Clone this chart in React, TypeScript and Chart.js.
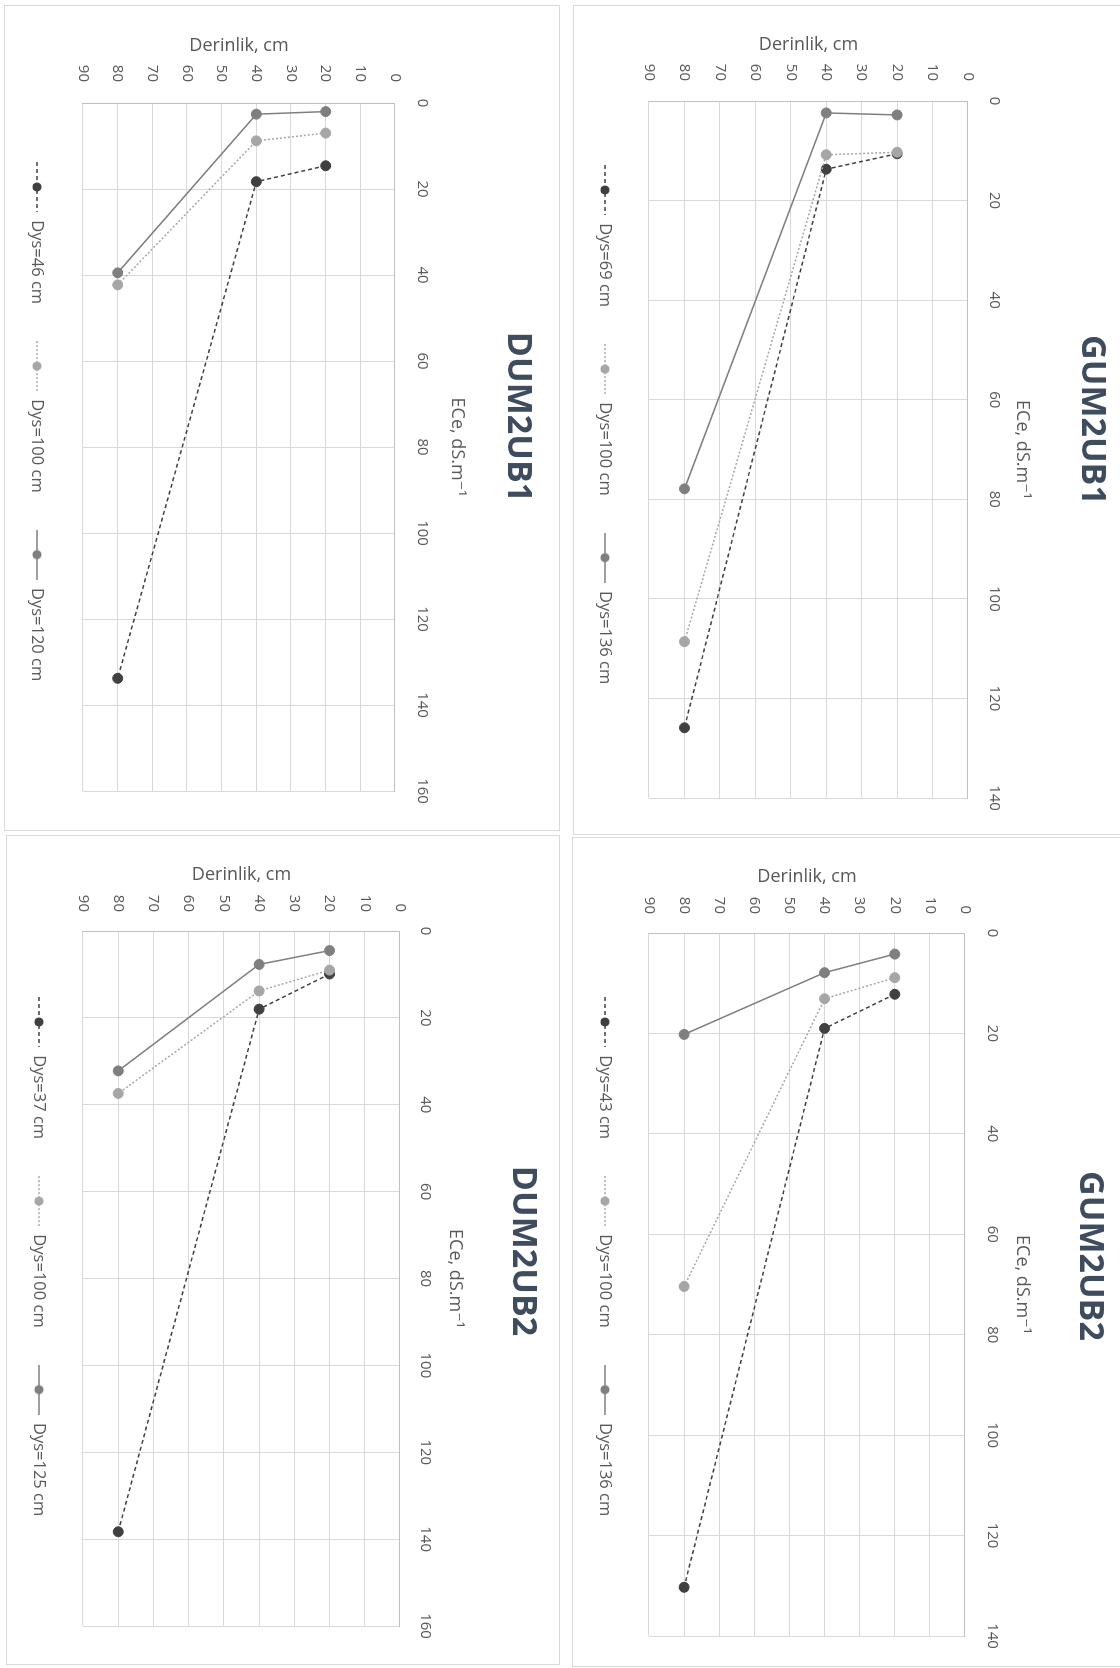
import React, { useEffect, useRef } from "react";
import { Chart, registerables } from "chart.js";

Chart.register(...registerables);

// ---------------- data ----------------
const depthsCm = [20, 40, 80];
const depthTicks = [0, 10, 20, 30, 40, 50, 60, 70, 80, 90];
const eceTicksGum = [0, 20, 40, 60, 80, 100, 120, 140];
const eceTicksDum = [0, 20, 40, 60, 80, 100, 120, 140, 160];

const gum2ub1Labels = ["Dys=69 cm", "Dys=100 cm", "Dys=136 cm"];
const gum2ub1Dys69 = [10.6, 13.7, 125.9];
const gum2ub1Dys100 = [10.3, 10.8, 108.6];
const gum2ub1Dys136 = [2.8, 2.4, 77.9];

const dum2ub1Labels = ["Dys=46 cm", "Dys=100 cm", "Dys=120 cm"];
const dum2ub1Dys46 = [14.6, 18.3, 133.8];
const dum2ub1Dys100 = [7.0, 8.8, 42.3];
const dum2ub1Dys120 = [2.0, 2.6, 39.5];

const gum2ub2Labels = ["Dys=43 cm", "Dys=100 cm", "Dys=136 cm"];
const gum2ub2Dys43 = [12.2, 19.0, 130.3];
const gum2ub2Dys100 = [8.9, 13.1, 70.4];
const gum2ub2Dys136 = [4.2, 7.9, 20.2];

const dum2ub2Labels = ["Dys=37 cm", "Dys=100 cm", "Dys=125 cm"];
const dum2ub2Dys37 = [9.9, 18.0, 138.3];
const dum2ub2Dys100 = [9.0, 13.8, 37.4];
const dum2ub2Dys125 = [4.5, 7.7, 32.2];

const depthTitle = "Derinlik, cm";
const eceTitle = "ECe, dS.m\u207B\u00B9";

// ---------------- styles ----------------
const SERIES_STYLE = [
  { color: "#404040", dash: [4, 3] },
  { color: "#a6a6a6", dash: [2, 2] },
  { color: "#7f7f7f", dash: [] as number[] },
];
const FONT = "'Open Sans', 'DejaVu Sans', sans-serif";
const TEXT = "#595959";
const TITLE_FONT = 34;
const AXIS_FONT = 18;
const TICK_FONT = 15;
const LEGEND_FONT = 16.5;
const LEGEND_PAD = 37;
const LEGEND_BOX = 50;

type PanelCfg = {
  title: string;
  labels: string[];
  series: number[][];
  eceTicks: number[];
  box: { l: number; t: number; r: number; b: number };
  plot: { x0: number; x1: number; y0: number; y1: number };
  titleX: number;
  titleCenterY: number;
  axisTitleX: number;
  tickX: number;
  legendX: number;
  derinlikY: number;
  depthLabelEdgeY: number;
  legendFirstY: number;
};

const PANELS: PanelCfg[] = [
  {
    title: "DUM2UB1",
    labels: dum2ub1Labels,
    series: [dum2ub1Dys46, dum2ub1Dys100, dum2ub1Dys120],
    eceTicks: eceTicksDum,
    box: { l: 4, t: 5, r: 560, b: 831 },
    plot: { x0: 83, x1: 395, y0: 103, y1: 791 },
    titleX: 518,
    titleCenterY: 417,
    axisTitleX: 457,
    tickX: 422,
    legendX: 37,
    derinlikY: 46,
    depthLabelEdgeY: 82,
    legendFirstY: 187,
  },
  {
    title: "GUM2UB1",
    labels: gum2ub1Labels,
    series: [gum2ub1Dys69, gum2ub1Dys100, gum2ub1Dys136],
    eceTicks: eceTicksGum,
    box: { l: 573, t: 5, r: 1129, b: 835 },
    plot: { x0: 649, x1: 968, y0: 101, y1: 798 },
    titleX: 1092,
    titleCenterY: 420,
    axisTitleX: 1022,
    tickX: 994,
    legendX: 605,
    derinlikY: 45,
    depthLabelEdgeY: 81,
    legendFirstY: 190,
  },
  {
    title: "DUM2UB2",
    labels: dum2ub2Labels,
    series: [dum2ub2Dys37, dum2ub2Dys100, dum2ub2Dys125],
    eceTicks: eceTicksDum,
    box: { l: 6, t: 835, r: 560, b: 1665 },
    plot: { x0: 83, x1: 400, y0: 931, y1: 1626 },
    titleX: 523,
    titleCenterY: 1251,
    axisTitleX: 455,
    tickX: 425,
    legendX: 39,
    derinlikY: 875,
    depthLabelEdgeY: 912,
    legendFirstY: 1022,
  },
  {
    title: "GUM2UB2",
    labels: gum2ub2Labels,
    series: [gum2ub2Dys43, gum2ub2Dys100, gum2ub2Dys136],
    eceTicks: eceTicksGum,
    box: { l: 572, t: 837, r: 1128, b: 1667 },
    plot: { x0: 649, x1: 965, y0: 933, y1: 1636 },
    titleX: 1090,
    titleCenterY: 1256,
    axisTitleX: 1022,
    tickX: 992,
    legendX: 605,
    derinlikY: 877,
    depthLabelEdgeY: 914,
    legendFirstY: 1022,
  },
];

function legendSymbol(color: string, dash: number[]): HTMLCanvasElement {
  const c = document.createElement("canvas");
  c.width = LEGEND_BOX;
  c.height = 12;
  const ctx = c.getContext("2d")!;
  ctx.strokeStyle = color;
  ctx.lineWidth = 1.5;
  ctx.setLineDash(dash);
  ctx.beginPath();
  ctx.moveTo(0, 6);
  ctx.lineTo(LEGEND_BOX, 6);
  ctx.stroke();
  ctx.setLineDash([]);
  ctx.fillStyle = color;
  ctx.beginPath();
  ctx.arc(LEGEND_BOX / 2, 6, 4.5, 0, Math.PI * 2);
  ctx.fill();
  return c;
}

const placePlugin = {
  id: "placeBlocks",
  afterLayout(chart: any, _args: any, opts: any) {
    const lg = chart.legend;
    if (lg && opts) {
      const w = lg.width;
      const h = lg.height;
      lg.left = opts.legendStartU - LEGEND_PAD;
      lg.right = lg.left + w;
      lg.top = opts.legendCenterV - LEGEND_PAD - LEGEND_FONT / 2;
      lg.bottom = lg.top + h;
    }
    const tb = chart.titleBlock;
    if (tb && opts) {
      tb.left = opts.titleCenterU - 400;
      tb.right = opts.titleCenterU + 400;
      tb.width = 800;
    }
  },
};

function Panel({ cfg }: { cfg: PanelCfg }) {
  const ref = useRef<HTMLCanvasElement | null>(null);
  const H = cfg.box.r - cfg.box.l; // rotated: screen width -> chart height
  const W = cfg.box.b - cfg.box.t; // screen height -> chart width

  useEffect(() => {
    if (!ref.current) return;
    const vOf = (x: number) => cfg.box.r - x;
    const uOf = (y: number) => y - cfg.box.t;
    const chartTop = vOf(cfg.plot.x1);
    const chartBottom = vOf(cfg.plot.x0);
    const chartLeft = uOf(cfg.plot.y0);
    const chartRight = uOf(cfg.plot.y1);

    const titleLH = TITLE_FONT * 1.2;
    const titlePadTop = vOf(cfg.titleX) - titleLH / 2;
    const titleBoxBottom = titlePadTop + titleLH;
    const xAxisHeight = chartTop - titleBoxBottom;
    const axisLH = AXIS_FONT * 1.2;
    const xTitlePad = vOf(cfg.axisTitleX) - titleBoxBottom - axisLH / 2;
    const tickLH = TICK_FONT * 1.2;
    const xTickPad = chartTop - vOf(cfg.tickX) - tickLH / 2;
    const yTitlePad = uOf(cfg.derinlikY) - axisLH / 2;
    const yTickPad = chartLeft - uOf(cfg.depthLabelEdgeY);
    const legendHeight = LEGEND_FONT + LEGEND_PAD + 10;
    const padBottom = H - chartBottom - legendHeight;
    const padRight = W - chartRight;

    const symbols = SERIES_STYLE.map((s) => legendSymbol(s.color, s.dash));
    const eceMax = cfg.eceTicks[cfg.eceTicks.length - 1];

    const datasets = cfg.series.map((vals, i) => ({
      label: cfg.labels[i],
      data: vals.map((v, k) => ({ x: v, y: depthsCm[k] })),
      showLine: true,
      borderColor: SERIES_STYLE[i].color,
      backgroundColor: SERIES_STYLE[i].color,
      borderDash: SERIES_STYLE[i].dash,
      borderWidth: 1.5,
      pointRadius: 5,
      pointBackgroundColor: SERIES_STYLE[i].color,
      pointBorderColor: SERIES_STYLE[i].color,
      pointBorderWidth: 1,
      order: 3 - i,
    }));

    const chart = new Chart(ref.current, {
      type: "scatter",
      data: { datasets },
      plugins: [placePlugin as any],
      options: {
        responsive: false,
        animation: false,
        devicePixelRatio: 1,
        layout: {
          autoPadding: false,
          padding: { top: 0, left: 0, right: padRight, bottom: padBottom },
        },
        scales: {
          x: {
            type: "linear",
            position: "top",
            min: 0,
            max: eceMax,
            afterBuildTicks: (scale: any) => {
              scale.ticks = cfg.eceTicks.map((v) => ({ value: v }));
            },
            afterFit: (scale: any) => {
              scale.height = xAxisHeight;
            },
            grid: { color: "#d9d9d9", lineWidth: 1, drawTicks: false },
            border: { display: true, color: "#bfbfbf", width: 1 },
            ticks: {
              color: TEXT,
              padding: xTickPad,
              maxRotation: 0,
              autoSkip: false,
              font: { family: FONT, size: TICK_FONT },
            },
            title: {
              display: true,
              text: eceTitle,
              color: TEXT,
              padding: { top: xTitlePad, bottom: 0 },
              font: { family: FONT, size: AXIS_FONT },
            },
          },
          y: {
            type: "linear",
            position: "left",
            reverse: true,
            min: 0,
            max: 90,
            afterBuildTicks: (scale: any) => {
              scale.ticks = depthTicks.map((v) => ({ value: v }));
            },
            afterFit: (scale: any) => {
              scale.width = chartLeft;
            },
            grid: { color: "#d9d9d9", lineWidth: 1, drawTicks: false },
            border: { display: true, color: "#bfbfbf", width: 1 },
            ticks: {
              color: TEXT,
              padding: yTickPad,
              autoSkip: false,
              font: { family: FONT, size: TICK_FONT },
            },
            title: {
              display: true,
              text: depthTitle,
              color: TEXT,
              padding: { top: yTitlePad, bottom: 0 },
              font: { family: FONT, size: AXIS_FONT },
            },
          },
        },
        plugins: {
          placeBlocks: {
            legendStartU: uOf(cfg.legendFirstY) - LEGEND_BOX / 2,
            legendCenterV: vOf(cfg.legendX),
            titleCenterU: uOf(cfg.titleCenterY),
          },
          title: {
            display: true,
            text: cfg.title,
            color: "#3e4c5e",
            padding: { top: titlePadTop, bottom: 0 },
            font: { family: FONT, size: TITLE_FONT, weight: "bold" },
          },
          legend: {
            display: true,
            position: "bottom",
            align: "start",
            labels: {
              usePointStyle: true,
              pointStyleWidth: LEGEND_BOX,
              padding: LEGEND_PAD,
              color: TEXT,
              font: { family: FONT, size: LEGEND_FONT },
              generateLabels: () =>
                cfg.labels.map((t, i) => ({
                  text: t,
                  pointStyle: symbols[i],
                  fillStyle: SERIES_STYLE[i].color,
                  strokeStyle: SERIES_STYLE[i].color,
                  lineWidth: 0,
                  hidden: false,
                  datasetIndex: i,
                  fontColor: TEXT,
                })),
            },
          },
          tooltip: { enabled: false },
        },
      } as any,
    });
    return () => chart.destroy();
  }, [cfg, W, H]);

  return (
    <>
      <div
        style={{
          position: "absolute",
          left: cfg.box.l,
          top: cfg.box.t,
          width: H,
          height: W,
          border: "1px solid #d9d9d9",
          boxSizing: "border-box",
        }}
      />
      <div
        style={{
          position: "absolute",
          left: cfg.box.l,
          top: cfg.box.t,
          width: W,
          height: H,
          transformOrigin: "0 0",
          transform: `translate(${H}px, 0px) rotate(90deg)`,
        }}
      >
        <canvas ref={ref} width={W} height={H} style={{ display: "block", width: W, height: H }} />
      </div>
    </>
  );
}

export default function App() {
  return (
    <div
      style={{
        position: "absolute",
        left: 0,
        top: 0,
        width: 1120,
        height: 1668,
        overflow: "hidden",
        background: "#ffffff",
      }}
    >
      {PANELS.map((p) => (
        <Panel key={p.title} cfg={p} />
      ))}
    </div>
  );
}
